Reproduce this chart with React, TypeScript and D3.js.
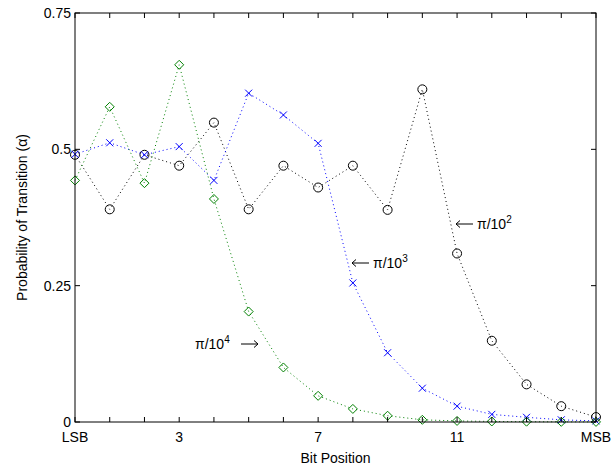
import React from "react";
import * as d3 from "d3";

const bits = d3.range(0, 16);
const xTickValues = [0, 3, 7, 11, 15];
const xTickLabels = ["LSB", "3", "7", "11", "MSB"];
const yTickValues = [0, 0.25, 0.5, 0.75];
const yTickLabels = ["0", "0.25", "0.5", "0.75"];

const pi1e2 = [0.49, 0.39, 0.49, 0.47, 0.549, 0.39, 0.47, 0.43, 0.47, 0.389, 0.61, 0.309, 0.149, 0.069, 0.029, 0.009];
const pi1e3 = [0.491, 0.512, 0.49, 0.505, 0.443, 0.603, 0.563, 0.511, 0.255, 0.127, 0.062, 0.029, 0.014, 0.0086, 0.004, 0.002];
const pi1e4 = [0.443, 0.578, 0.438, 0.655, 0.409, 0.2025, 0.1, 0.048, 0.024, 0.0115, 0.004, 0.002, 0.001, 0.0006, 0.0003, 0.0002];

const W = 614, H = 468;
const L = 75, R = 596, T = 13, B = 422;

function Arrow({ x1, x2, yy }: { x1: number; x2: number; yy: number }) {
  const dir = x2 > x1 ? 1 : -1;
  return (
    <g stroke="#000" strokeWidth={1} fill="none">
      <line x1={x1} x2={x2} y1={yy} y2={yy} />
      <path d={`M${x2 - dir * 4},${yy - 3.5}L${x2},${yy}L${x2 - dir * 4},${yy + 3.5}`} />
    </g>
  );
}

export default function App() {
  const x = d3.scaleLinear().domain([0, 15]).range([L, R]);
  const y = d3.scaleLinear().domain([0, 0.75]).range([B, T]);
  const line = d3.line<number>().x((_, i) => x(bits[i])).y((d) => y(d));
  const font = "'Liberation Sans', Arial, Helvetica, sans-serif";
  const series = [
    { data: pi1e2, color: "#000000", marker: "o" },
    { data: pi1e3, color: "#0000ff", marker: "x" },
    { data: pi1e4, color: "#008000", marker: "d" },
  ];
  const marker = (m: string, cx: number, cy: number, c: string, k: number) => {
    if (m === "o") return <circle key={k} cx={cx} cy={cy} r={4.5} fill="none" stroke={c} strokeWidth={1} />;
    if (m === "x") {
      const s = 3.5;
      return (
        <path key={k} d={`M${cx - s},${cy - s}L${cx + s},${cy + s}M${cx - s},${cy + s}L${cx + s},${cy - s}`} stroke={c} strokeWidth={1} fill="none" />
      );
    }
    const s = 4.5;
    return <path key={k} d={`M${cx},${cy - s}L${cx + s},${cy}L${cx},${cy + s}L${cx - s},${cy}Z`} stroke={c} strokeWidth={1} fill="none" />;
  };
  return (
    <svg width={W} height={H} style={{ position: "absolute", left: 0, top: 0, background: "#fff" }} fontFamily={font}>
      <rect x={0} y={0} width={W} height={H} fill="#fff" />
      {series.map((s, si) => (
        <g key={si}>
          <path d={line(s.data) || ""} fill="none" stroke={s.color} strokeWidth={1} strokeDasharray="1,3" />
          {s.data.map((v, i) => marker(s.marker, x(bits[i]), y(v), s.color, i))}
        </g>
      ))}
      <rect x={L} y={T} width={R - L} height={B - T} fill="none" stroke="#000" strokeWidth={1} />
      {bits.map((b) => (
        <g key={b}>
          <line x1={x(b)} x2={x(b)} y1={B} y2={B - 5} stroke="#000" />
          <line x1={x(b)} x2={x(b)} y1={T} y2={T + 5} stroke="#000" />
        </g>
      ))}
      {yTickValues.map((v) => (
        <g key={v}>
          <line x1={L} x2={L + 5} y1={y(v)} y2={y(v)} stroke="#000" />
          <line x1={R} x2={R - 5} y1={y(v)} y2={y(v)} stroke="#000" />
        </g>
      ))}
      {xTickValues.map((v, i) => (
        <text key={v} x={x(v)} y={B + 20} textAnchor="middle" fontSize={14} fill="#000">{xTickLabels[i]}</text>
      ))}
      {yTickValues.map((v, i) => (
        <text key={v} x={L - 4} y={y(v) + 5} textAnchor="end" fontSize={14} fill="#000">{yTickLabels[i]}</text>
      ))}
      <text x={(L + R) / 2} y={463} textAnchor="middle" fontSize={14} fill="#000">Bit Position</text>
      <text transform={`translate(27,${(T + B) / 2}) rotate(-90)`} textAnchor="middle" fontSize={14} fill="#000">Probability of Transition (α)</text>

      <Arrow x1={473} x2={456} yy={224} />
      <text x={477} y={229} fontSize={14} fill="#000">π/10<tspan dy={-6} fontSize={10}>2</tspan></text>
      <Arrow x1={369} x2={352} yy={263} />
      <text x={373} y={268} fontSize={14} fill="#000">π/10<tspan dy={-6} fontSize={10}>3</tspan></text>
      <text x={195} y={349} fontSize={14} fill="#000">π/10<tspan dy={-6} fontSize={10}>4</tspan></text>
      <Arrow x1={241} x2={258} yy={344} />
    </svg>
  );
}
